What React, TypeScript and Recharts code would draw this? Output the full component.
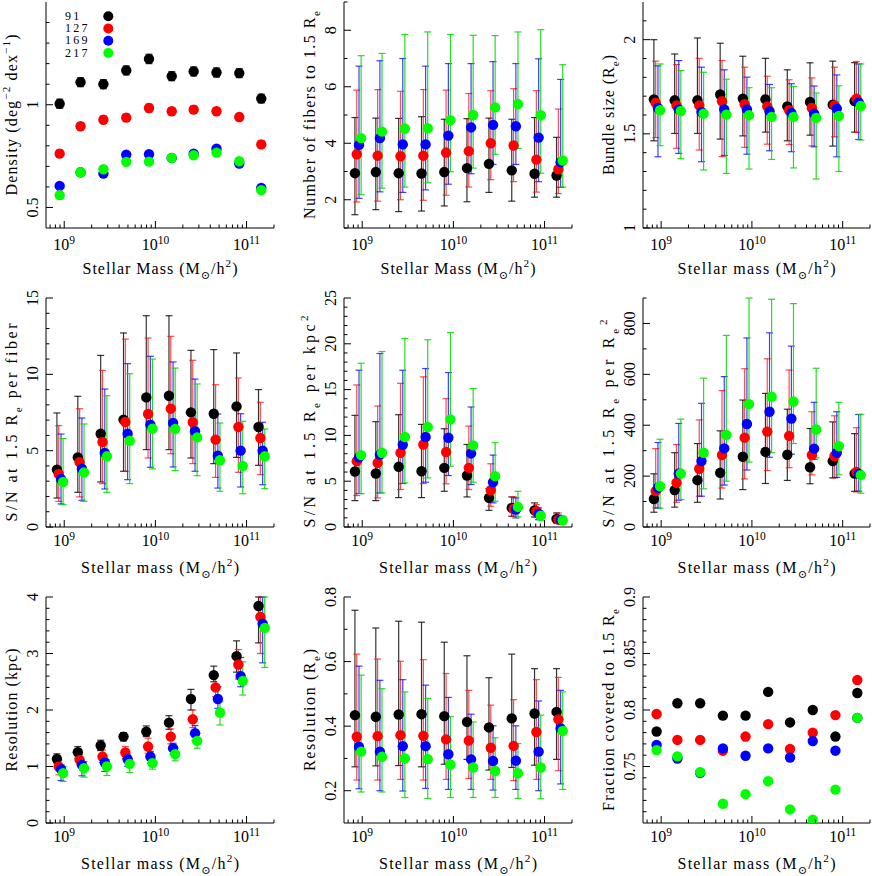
import React from 'react';
import { ScatterChart, Scatter, XAxis, YAxis, ErrorBar, Legend } from 'recharts';

const FONT = '"Liberation Serif", "DejaVu Serif", "DejaVu Sans", serif';

// ---------- series ----------
const SERIES_NAMES = ['91', '127', '169', '217'];
const COLORS = ['#000000', '#ff0000', '#0000ff', '#00ff00'];
const BAR_COLORS = ['rgba(0,0,0,0.8)', 'rgba(255,0,0,0.7)', 'rgba(0,0,255,0.75)', 'rgba(0,215,0,0.85)'];

// stellar mass bin centres (M_sun/h^2)
const MASS = [8.91e8, 1.51e9, 2.69e9, 4.79e9, 8.51e9, 1.51e10, 2.63e10, 4.68e10, 8.32e10, 1.45e11];
// horizontal dodge of each series (dex) in the panels with error bars
const DODGE_DEX = [-0.03, -0.01, 0.015, 0.038];

// ---------- axes ----------
const X_DOMAIN = [6.31e8, 2.0e11];
const X_MAJOR = [1e9, 1e10, 1e11];
const X_MAJOR_EXP = ['9', '10', '11'];
const X_MINOR = [7e8, 8e8, 9e8, 2e9, 3e9, 4e9, 5e9, 6e9, 7e9, 8e9, 9e9, 2e10, 3e10, 4e10, 5e10, 6e10, 7e10, 8e10, 9e10, 2e11];

// ---------- panel 1: density ----------
const densityMid = [
  [1.005, 1.11, 1.10, 1.167, 1.223, 1.139, 1.162, 1.157, 1.154, 1.03],
  [0.762, 0.895, 0.927, 0.937, 0.984, 0.968, 0.976, 0.968, 0.94, 0.807],
  [0.605, 0.671, 0.665, 0.757, 0.759, 0.741, 0.762, 0.786, 0.714, 0.595],
  [0.56, 0.671, 0.686, 0.722, 0.723, 0.741, 0.754, 0.767, 0.725, 0.584],
];
const densityErr = [
  [0.022, 0.022, 0.022, 0.022, 0.023, 0.022, 0.022, 0.022, 0.022, 0.021],
  [0.018, 0.018, 0.018, 0.018, 0.019, 0.018, 0.018, 0.018, 0.018, 0.018],
  [0.01, 0.01, 0.01, 0.011, 0.011, 0.011, 0.011, 0.011, 0.01, 0.01],
  [0.01, 0.01, 0.01, 0.011, 0.011, 0.011, 0.011, 0.011, 0.01, 0.01],
];
const densityYMajor = [0.5, 1];
const densityYMinor = [0.6, 0.7, 0.8, 0.9, 1.1, 1.2, 1.3, 1.4];

// ---------- panel 2: number of fibres ----------
const fibersMid = [
  [2.94, 2.98, 2.94, 2.93, 2.98, 3.12, 3.27, 3.04, 2.92, 2.86],
  [3.61, 3.56, 3.54, 3.56, 3.67, 3.72, 4.0, 3.92, 3.42, 3.08],
  [3.94, 4.18, 3.96, 3.96, 4.27, 4.56, 4.65, 4.6, 4.2, 3.33],
  [4.18, 4.41, 4.52, 4.53, 4.82, 5.0, 5.27, 5.39, 4.99, 3.39],
];
const fibersLo = [
  [1.47, 1.65, 1.58, 1.6, 1.78, 1.93, 2.26, 1.95, 2.09, 2.09],
  [1.92, 1.95, 2.0, 1.98, 2.16, 2.45, 2.71, 2.64, 2.27, 2.22],
  [2.05, 2.28, 2.26, 2.35, 2.55, 2.92, 3.25, 3.25, 2.64, 2.44],
  [2.18, 2.41, 2.45, 2.6, 2.99, 3.12, 3.61, 3.82, 2.94, 2.45],
];
const fibersHi = [
  [4.91, 4.89, 4.88, 4.94, 4.85, 4.87, 4.89, 4.85, 4.91, 4.21],
  [5.88, 5.9, 5.84, 5.9, 5.88, 5.76, 5.86, 5.93, 5.86, 5.21],
  [6.73, 6.92, 7.0, 6.73, 6.82, 6.82, 6.89, 6.82, 6.99, 6.26],
  [7.1, 7.18, 7.85, 7.94, 7.85, 7.82, 7.81, 7.94, 8.02, 6.78],
];
const fibersYMajor = [2, 4, 6, 8];
const fibersYMinor = [1, 3, 5, 7, 9];

// ---------- panel 3: bundle size ----------
const bundleMid = [
  [1.683, 1.678, 1.678, 1.709, 1.687, 1.683, 1.646, 1.669, 1.655, 1.674],
  [1.665, 1.651, 1.651, 1.673, 1.657, 1.646, 1.625, 1.637, 1.651, 1.687],
  [1.637, 1.63, 1.616, 1.63, 1.63, 1.62, 1.611, 1.607, 1.634, 1.667],
  [1.625, 1.621, 1.607, 1.602, 1.599, 1.59, 1.59, 1.585, 1.595, 1.648],
];
const bundleLo = [
  [1.463, 1.502, 1.502, 1.472, 1.489, 1.509, 1.463, 1.493, 1.435, 1.509],
  [1.48, 1.423, 1.414, 1.379, 1.428, 1.445, 1.443, 1.436, 1.484, 1.507],
  [1.378, 1.396, 1.352, 1.385, 1.392, 1.41, 1.405, 1.431, 1.378, 1.47],
  [1.437, 1.368, 1.308, 1.29, 1.313, 1.364, 1.319, 1.26, 1.3, 1.467],
];
const bundleHi = [
  [2.0, 1.924, 2.009, 1.981, 1.912, 1.901, 1.84, 1.877, 1.886, 1.878],
  [1.886, 1.868, 1.901, 1.889, 1.854, 1.806, 1.787, 1.797, 1.854, 1.884],
  [1.861, 1.889, 1.854, 1.84, 1.801, 1.762, 1.766, 1.754, 1.813, 1.871],
  [1.871, 1.836, 1.827, 1.79, 1.745, 1.745, 1.752, 1.717, 1.755, 1.871],
];
const bundleYMajor = [1, 1.5, 2];
const bundleYMinor = [1.1, 1.2, 1.3, 1.4, 1.6, 1.7, 1.8, 1.9, 2.1];

// ---------- panel 4: S/N per fibre ----------
const snFiberMid = [
  [3.76, 4.56, 6.11, 7.03, 8.49, 8.6, 7.51, 7.42, 7.9, 6.55],
  [3.47, 4.24, 5.57, 6.88, 7.4, 7.75, 6.86, 5.72, 6.55, 5.83],
  [3.14, 3.82, 4.85, 6.11, 6.7, 6.81, 6.27, 4.67, 5.0, 5.0],
  [2.95, 3.58, 4.63, 5.65, 6.44, 6.42, 5.87, 4.37, 4.0, 4.63],
];
const snFiberLo = [
  [1.9, 2.27, 2.95, 3.65, 5.07, 5.07, 4.52, 4.15, 4.56, 4.04],
  [1.68, 1.97, 2.84, 3.65, 4.52, 4.8, 4.15, 3.25, 3.58, 3.43],
  [1.51, 1.75, 2.49, 3.1, 3.91, 3.93, 3.65, 2.55, 2.62, 2.77],
  [1.46, 1.68, 2.27, 2.84, 3.8, 3.69, 3.36, 2.34, 2.18, 2.51],
];
const snFiberHi = [
  [7.47, 8.56, 11.24, 12.71, 13.84, 13.84, 11.57, 11.62, 11.4, 9.0],
  [6.64, 7.75, 10.26, 12.31, 12.38, 12.49, 10.92, 9.32, 9.76, 8.17],
  [6.09, 7.14, 9.04, 10.7, 11.18, 10.81, 9.69, 7.4, 7.42, 6.86],
  [5.79, 6.75, 8.6, 10.04, 11.0, 10.41, 9.37, 6.81, 6.92, 6.42],
];
const snFiberYMajor = [0, 5, 10, 15];
const snFiberYMinor = [1, 2, 3, 4, 6, 7, 8, 9, 11, 12, 13, 14];

// ---------- panel 5: S/N per kpc^2 ----------
const snKpcMid = [
  [6.06, 5.84, 6.57, 6.09, 6.46, 5.62, 3.18, 2.08, 1.82, 0.88],
  [7.19, 7.0, 8.1, 9.01, 8.18, 6.46, 4.01, 1.97, 1.72, 0.8],
  [7.6, 7.9, 8.98, 9.82, 9.74, 8.03, 4.89, 1.9, 1.46, 0.8],
  [7.85, 8.1, 9.82, 10.91, 11.75, 8.91, 5.55, 2.19, 1.24, 0.73],
];
const snKpcLo = [
  [2.88, 2.88, 3.21, 3.21, 3.9, 3.28, 1.82, 1.17, 1.09, 0.44],
  [3.43, 3.18, 4.09, 4.74, 4.71, 4.09, 2.26, 1.17, 1.09, 0.44],
  [3.65, 3.72, 4.74, 4.89, 5.62, 4.64, 2.63, 0.99, 0.8, 0.44],
  [3.65, 3.72, 4.82, 5.36, 6.64, 4.89, 2.81, 1.09, 0.73, 0.33],
];
const snKpcHi = [
  [12.19, 11.5, 12.26, 11.2, 10.73, 9.01, 4.2, 3.28, 2.63, 1.53],
  [15.51, 13.21, 15.69, 16.39, 14.01, 11.02, 6.9, 3.28, 2.45, 1.53],
  [17.12, 18.94, 17.12, 17.3, 16.86, 13.1, 7.85, 3.18, 2.08, 1.17],
  [17.88, 19.16, 20.58, 20.44, 21.24, 15.11, 9.2, 3.9, 1.72, 1.17],
];
const snKpcYMajor = [0, 5, 10, 15, 20, 25];
const snKpcYMinor = [1, 2, 3, 4, 6, 7, 8, 9, 11, 12, 13, 14, 16, 17, 18, 19, 21, 22, 23, 24];

// ---------- panel 6: S/N per Re^2 ----------
const snReMid = [
  [110, 145, 184, 213, 276, 295, 284, 235, 259, 210],
  [141, 174, 229, 283, 351, 375, 358, 283, 279, 216],
  [154, 210, 259, 309, 405, 453, 426, 308, 292, 209],
  [160, 210, 292, 362, 483, 512, 493, 383, 318, 204],
];
const snReLo = [
  [58, 78, 97, 110, 147, 171, 183, 170, 193, 140],
  [75, 97, 121, 153, 189, 222, 233, 205, 193, 138],
  [74, 105, 121, 165, 224, 274, 286, 266, 195, 141],
  [74, 108, 150, 180, 255, 292, 328, 272, 205, 133],
];
const snReHi = [
  [209, 292, 328, 378, 499, 525, 463, 387, 413, 367],
  [308, 324, 421, 536, 622, 661, 617, 453, 437, 390],
  [332, 407, 486, 591, 743, 763, 711, 490, 453, 442],
  [345, 424, 585, 753, 900, 895, 878, 624, 490, 443],
];
const snReYMajor = [0, 200, 400, 600, 800];
const snReYMinor = [100, 300, 500, 700, 900];

// ---------- panel 7: resolution (kpc) ----------
const resKpcMid = [
  [1.135, 1.253, 1.371, 1.529, 1.618, 1.776, 2.194, 2.618, 2.953, 3.841],
  [1.0, 1.118, 1.176, 1.247, 1.353, 1.529, 1.835, 2.4, 2.806, 3.647],
  [0.953, 1.029, 1.071, 1.129, 1.176, 1.324, 1.588, 2.194, 2.6, 3.529],
  [0.882, 0.971, 1.0, 1.047, 1.059, 1.218, 1.453, 1.953, 2.512, 3.453],
];
const resKpcLo = [
  [1.059, 1.147, 1.282, 1.453, 1.529, 1.659, 2.0, 2.5, 2.67, 3.188],
  [0.853, 1.029, 1.071, 1.141, 1.235, 1.4, 1.688, 2.235, 2.547, 3.0],
  [0.753, 0.835, 0.912, 1.0, 1.059, 1.218, 1.459, 2.029, 2.412, 2.835],
  [0.735, 0.812, 0.841, 0.894, 0.953, 1.1, 1.324, 1.735, 2.265, 2.753],
];
const resKpcHi = [
  [1.224, 1.353, 1.465, 1.6, 1.718, 1.9, 2.365, 2.776, 3.224, 4.0],
  [1.106, 1.206, 1.294, 1.353, 1.5, 1.665, 2.0, 2.6, 3.07, 4.0],
  [1.029, 1.088, 1.147, 1.206, 1.265, 1.412, 1.724, 2.412, 2.929, 4.0],
  [1.0, 1.088, 1.118, 1.118, 1.147, 1.324, 1.588, 2.147, 2.853, 4.0],
];
const resKpcYMajor = [0, 1, 2, 3, 4];
const resKpcYMinor = [0.2, 0.4, 0.6, 0.8, 1.2, 1.4, 1.6, 1.8, 2.2, 2.4, 2.6, 2.8, 3.2, 3.4, 3.6, 3.8];

// ---------- panel 8: resolution (Re) ----------
const resReMid = [
  [0.434, 0.429, 0.436, 0.437, 0.431, 0.413, 0.396, 0.424, 0.439, 0.444],
  [0.367, 0.369, 0.372, 0.37, 0.359, 0.355, 0.333, 0.339, 0.382, 0.421],
  [0.336, 0.321, 0.338, 0.338, 0.313, 0.297, 0.292, 0.293, 0.321, 0.393],
  [0.321, 0.305, 0.3, 0.298, 0.281, 0.272, 0.261, 0.254, 0.272, 0.385],
];
const resReLo = [
  [0.274, 0.277, 0.278, 0.274, 0.282, 0.297, 0.264, 0.272, 0.279, 0.297],
  [0.233, 0.233, 0.235, 0.233, 0.235, 0.238, 0.235, 0.231, 0.235, 0.262],
  [0.206, 0.2, 0.199, 0.207, 0.204, 0.204, 0.202, 0.204, 0.2, 0.221],
  [0.196, 0.196, 0.179, 0.176, 0.179, 0.179, 0.179, 0.176, 0.175, 0.204],
];
const resReHi = [
  [0.759, 0.704, 0.725, 0.722, 0.66, 0.618, 0.55, 0.623, 0.578, 0.578],
  [0.623, 0.608, 0.601, 0.606, 0.563, 0.511, 0.465, 0.482, 0.544, 0.551],
  [0.586, 0.542, 0.544, 0.527, 0.489, 0.437, 0.401, 0.401, 0.478, 0.511],
  [0.558, 0.516, 0.506, 0.486, 0.429, 0.413, 0.364, 0.346, 0.434, 0.506],
];
const resReYMajor = [0.2, 0.4, 0.6, 0.8];
const resReYMinor = [0.3, 0.5, 0.7];

// ---------- panel 9: fraction covered ----------
const fracMid = [
  [0.781, 0.806, 0.806, 0.795, 0.795, 0.816, 0.789, 0.8, 0.7765, 0.815],
  [0.7965, 0.7735, 0.7735, 0.764, 0.7765, 0.7875, 0.7655, 0.78, 0.7955, 0.8265],
  [0.769, 0.757, 0.7445, 0.766, 0.7595, 0.766, 0.758, 0.7725, 0.764, 0.793],
  [0.7645, 0.759, 0.745, 0.717, 0.7255, 0.737, 0.712, 0.703, 0.7295, 0.793],
];
const fracYMajor = [0.75, 0.8, 0.85, 0.9];
const fracYMinor = [0.71, 0.72, 0.73, 0.74, 0.76, 0.77, 0.78, 0.79, 0.81, 0.82, 0.83, 0.84, 0.86, 0.87, 0.88, 0.89];

// ---------- titles ----------
type Seg = [string, 'n' | 'sub' | 'sup'];
const X_TITLE_CAP: Seg[] = [['Stellar Mass (M', 'n'], ['\u2299', 'sub'], ['/h', 'n'], ['2', 'sup'], [')', 'n']];
const X_TITLE_LOW: Seg[] = [['Stellar mass (M', 'n'], ['\u2299', 'sub'], ['/h', 'n'], ['2', 'sup'], [')', 'n']];
const Y_TITLES: Seg[][] = [
  [['Density (deg', 'n'], ['\u22122', 'sup'], [' dex', 'n'], ['\u22121', 'sup'], [')', 'n']],
  [['Number of fibers to 1.5 R', 'n'], ['e', 'sub']],
  [['Bundle size (R', 'n'], ['e', 'sub'], [')', 'n']],
  [['S/N at 1.5 R', 'n'], ['e', 'sub'], [' per fiber', 'n']],
  [['S/N at 1.5 R', 'n'], ['e', 'sub'], [' per kpc', 'n'], ['2', 'sup']],
  [['S/N at 1.5 R', 'n'], ['e', 'sub'], [' per R', 'n'], ['e', 'sub'], ['2', 'sup']],
  [['Resolution (kpc)', 'n']],
  [['Resolution (R', 'n'], ['e', 'sub'], [')', 'n']],
  [['Fraction covered to 1.5 R', 'n'], ['e', 'sub']],
];

const MAJOR_LEN = 7;
const MINOR_LEN = 3.5;
const TITLE_FS = 16;
const TICK_FS = 16;

function richSpans(segs: Seg[], fs: number) {
  let shift = 0;
  return segs.map(([t, k], i) => {
    const target = k === 'sub' ? fs * 0.32 : k === 'sup' ? -fs * 0.42 : 0;
    const dy = target - shift;
    shift = target;
    return (
      <tspan key={i} dy={dy} fontSize={k === 'n' ? fs : fs * 0.7}>
        {t}
      </tspan>
    );
  });
}

const near = (a: number, b: number) => Math.abs(a - b) <= 1e-6 * Math.max(1e-9, Math.abs(b));

type PanelProps = {
  plotLeft: number;
  plotTop: number;
  plotW: number;
  plotH: number;
  tickDy: number;
  yDomain: number[];
  yMajor: number[];
  yMinor: number[];
  yTitle: Seg[];
  yTitleLen: number;
  yShift?: number;
  xTitle: Seg[];
  xTitleLen: number;
  mid: number[][];
  lo?: number[][];
  hi?: number[][];
  err?: number[][];
  dodge?: boolean;
  legend?: boolean;
};

function Panel(props: PanelProps) {
  const { plotLeft, plotTop, plotW, plotH, tickDy, yDomain, yMajor, yMinor, yTitle, yTitleLen, yShift = 0, xTitle, xTitleLen, mid, lo, hi, err, dodge, legend } = props;
  const AXW = 46;
  const MT = 12;
  const width = AXW + plotW + 4;
  const height = MT + plotH + 56;
  const xTicks = [...X_MAJOR, ...X_MINOR];
  const yTicks = [...yMajor, ...yMinor];

  const series = mid.map((vals, s) =>
    vals.map((v, i) => {
      const row: any = { x: dodge ? MASS[i] * Math.pow(10, DODGE_DEX[s]) : MASS[i], y: v };
      if (lo && hi) row.err = [v - lo[s][i], hi[s][i] - v];
      else if (err) row.err = [err[s][i], err[s][i]];
      return row;
    })
  );

  const bottomTick = (p: any) => {
    const v = p.payload.value;
    const mi = X_MAJOR.findIndex((m) => near(v, m));
    const len = mi >= 0 ? MAJOR_LEN : MINOR_LEN;
    return (
      <g>
        <line x1={p.x} y1={p.y} x2={p.x} y2={p.y - len} stroke="#000" strokeWidth={1} />
        {mi >= 0 && (
          <text x={p.x} y={p.y + tickDy} textAnchor="middle" fontFamily={FONT} fontSize={TICK_FS} fill="#000">
            10
            <tspan dy={-6.5} fontSize={TICK_FS * 0.72}>
              {X_MAJOR_EXP[mi]}
            </tspan>
          </text>
        )}
      </g>
    );
  };
  const topTick = (p: any) => {
    const v = p.payload.value;
    const len = X_MAJOR.some((m) => near(v, m)) ? MAJOR_LEN : MINOR_LEN;
    return <line x1={p.x} y1={p.y} x2={p.x} y2={p.y + len} stroke="#000" strokeWidth={1} />;
  };
  const leftTick = (p: any) => {
    const v = p.payload.value;
    const major = yMajor.some((m) => near(v, m));
    const len = major ? MAJOR_LEN : MINOR_LEN;
    const tx = p.x - 8;
    return (
      <g>
        <line x1={p.x} y1={p.y} x2={p.x + len} y2={p.y} stroke="#000" strokeWidth={1} />
        {major && (
          <text x={tx} y={p.y} transform={`rotate(-90 ${tx} ${p.y})`} textAnchor="middle" fontFamily={FONT} fontSize={TICK_FS} fill="#000">
            {String(v)}
          </text>
        )}
      </g>
    );
  };
  const rightTick = (p: any) => {
    const v = p.payload.value;
    const len = yMajor.some((m) => near(v, m)) ? MAJOR_LEN : MINOR_LEN;
    return <line x1={p.x} y1={p.y} x2={p.x - len} y2={p.y} stroke="#000" strokeWidth={1} />;
  };

  const xLabel = () => (
    <text
      x={AXW + plotW / 2}
      y={MT + plotH + 46}
      textAnchor="middle"
      fontFamily={FONT}
      fontSize={TITLE_FS}
      fill="#000"
      textLength={xTitleLen}
      lengthAdjust="spacing"
    >
      {richSpans(xTitle, TITLE_FS)}
    </text>
  );
  const yLabel = () => {
    const cx = AXW - 29;
    const cy = MT + plotH / 2 + yShift;
    return (
      <text
        x={cx}
        y={cy}
        transform={`rotate(-90 ${cx} ${cy})`}
        textAnchor="middle"
        fontFamily={FONT}
        fontSize={TITLE_FS}
        fill="#000"
        textLength={yTitleLen}
        lengthAdjust="spacing"
      >
        {richSpans(yTitle, TITLE_FS)}
      </text>
    );
  };

  const renderLegend = () => (
    <svg width={60} height={60} style={{ display: 'block' }}>
      {SERIES_NAMES.map((n, i) => (
        <g key={n}>
          <text x={5} y={16.9 + i * 12.25} fontFamily={FONT} fontSize={12} letterSpacing={2.2} fill="#000">
            {n}
          </text>
          <circle cx={48.3} cy={13.3 + i * 12.25} r={5} fill={COLORS[i]} />
        </g>
      ))}
    </svg>
  );

  return (
    <div style={{ position: 'absolute', left: plotLeft - AXW, top: plotTop - MT, width, height }}>
      <ScatterChart width={width} height={height} margin={{ top: MT, right: 4, bottom: 0, left: 0 }}>
        <XAxis
          xAxisId="b"
          type="number"
          dataKey="x"
          scale="log"
          domain={X_DOMAIN}
          allowDataOverflow
          ticks={xTicks}
          interval={0}
          tick={bottomTick}
          tickLine={false}
          tickSize={0}
          tickMargin={0}
          height={56}
          axisLine={{ stroke: '#000', strokeWidth: 1 }}
          label={xLabel}
        />
        <XAxis
          xAxisId="t"
          orientation="top"
          type="number"
          scale="log"
          domain={X_DOMAIN}
          allowDataOverflow
          ticks={xTicks}
          interval={0}
          tick={topTick}
          tickLine={false}
          tickSize={0}
          tickMargin={0}
          height={0}
          axisLine={{ stroke: '#000', strokeWidth: 1 }}
        />
        <YAxis
          yAxisId="l"
          type="number"
          dataKey="y"
          domain={yDomain}
          allowDataOverflow
          ticks={yTicks}
          interval={0}
          tick={leftTick}
          tickLine={false}
          tickSize={0}
          tickMargin={0}
          width={AXW}
          axisLine={{ stroke: '#000', strokeWidth: 1 }}
          label={yLabel}
        />
        <YAxis
          yAxisId="r"
          orientation="right"
          type="number"
          domain={yDomain}
          allowDataOverflow
          ticks={yTicks}
          interval={0}
          tick={rightTick}
          tickLine={false}
          tickSize={0}
          tickMargin={0}
          width={0}
          axisLine={{ stroke: '#000', strokeWidth: 1 }}
        />
        {series.map((data, s) => (
          <Scatter
            key={SERIES_NAMES[s]}
            name={SERIES_NAMES[s]}
            data={data}
            xAxisId="b"
            yAxisId="l"
            fill={COLORS[s]}
            isAnimationActive={false}
            shape={(sp: any) => <circle cx={sp.cx} cy={sp.cy} r={5.2} fill={COLORS[s]} />}
          >
            {(lo || err) && (
              <ErrorBar dataKey="err" direction="y" width={3.5} stroke={BAR_COLORS[s]} strokeWidth={1.2} isAnimationActive={false} />
            )}
          </Scatter>
        ))}
        {legend && (
          <Legend
            layout="vertical"
            align="center"
            verticalAlign="middle"
            content={renderLegend}
            wrapperStyle={{ left: 60, top: MT + 1, width: 60, height: 60 }}
          />
        )}
      </ScatterChart>
    </div>
  );
}

const COL_LEFT = [46, 344, 643];
const COL_W = [228, 228, 227];
const ROW_TOP = [2, 298, 597];
const ROW_H = [226, 229, 226];
const ROW_TICK_DY = [22, 19, 19];

export default function App() {
  const pos = (r: number, c: number) => ({
    plotLeft: COL_LEFT[c],
    plotW: COL_W[c],
    plotTop: ROW_TOP[r],
    plotH: ROW_H[r],
    tickDy: ROW_TICK_DY[r],
  });
  return (
    <div style={{ position: 'absolute', left: 0, top: 0, width: 872, height: 876, overflow: 'hidden', background: '#fff' }}>
      <Panel {...pos(0, 0)} yDomain={[0.4, 1.5]} yMajor={densityYMajor} yMinor={densityYMinor} yTitle={Y_TITLES[0]} yTitleLen={161} xTitle={X_TITLE_CAP} xTitleLen={155} mid={densityMid} err={densityErr} legend />
      <Panel {...pos(0, 1)} yDomain={[1, 9]} yMajor={fibersYMajor} yMinor={fibersYMinor} yTitle={Y_TITLES[1]} yTitleLen={208} xTitle={X_TITLE_CAP} xTitleLen={155} mid={fibersMid} lo={fibersLo} hi={fibersHi} dodge />
      <Panel {...pos(0, 2)} yDomain={[1, 2.2]} yMajor={bundleYMajor} yMinor={bundleYMinor} yTitle={Y_TITLES[2]} yTitleLen={120} xTitle={X_TITLE_LOW} xTitleLen={158} mid={bundleMid} lo={bundleLo} hi={bundleHi} dodge />
      <Panel {...pos(1, 0)} yDomain={[0, 15]} yMajor={snFiberYMajor} yMinor={snFiberYMinor} yTitle={Y_TITLES[3]} yTitleLen={198} yShift={10} xTitle={X_TITLE_LOW} xTitleLen={158} mid={snFiberMid} lo={snFiberLo} hi={snFiberHi} dodge />
      <Panel {...pos(1, 1)} yDomain={[0, 25]} yMajor={snKpcYMajor} yMinor={snKpcYMinor} yTitle={Y_TITLES[4]} yTitleLen={212} yShift={9} xTitle={X_TITLE_LOW} xTitleLen={158} mid={snKpcMid} lo={snKpcLo} hi={snKpcHi} dodge />
      <Panel {...pos(1, 2)} yDomain={[0, 900]} yMajor={snReYMajor} yMinor={snReYMinor} yTitle={Y_TITLES[5]} yTitleLen={208} yShift={11} xTitle={X_TITLE_LOW} xTitleLen={158} mid={snReMid} lo={snReLo} hi={snReHi} dodge />
      <Panel {...pos(2, 0)} yDomain={[0, 4]} yMajor={resKpcYMajor} yMinor={resKpcYMinor} yTitle={Y_TITLES[6]} yTitleLen={123} xTitle={X_TITLE_LOW} xTitleLen={158} mid={resKpcMid} lo={resKpcLo} hi={resKpcHi} dodge />
      <Panel {...pos(2, 1)} yDomain={[0.1, 0.8]} yMajor={resReYMajor} yMinor={resReYMinor} yTitle={Y_TITLES[7]} yTitleLen={122} xTitle={X_TITLE_LOW} xTitleLen={158} mid={resReMid} lo={resReLo} hi={resReHi} dodge />
      <Panel {...pos(2, 2)} yDomain={[0.7, 0.9]} yMajor={fracYMajor} yMinor={fracYMinor} yTitle={Y_TITLES[8]} yTitleLen={202} xTitle={X_TITLE_LOW} xTitleLen={158} mid={fracMid} />
    </div>
  );
}
